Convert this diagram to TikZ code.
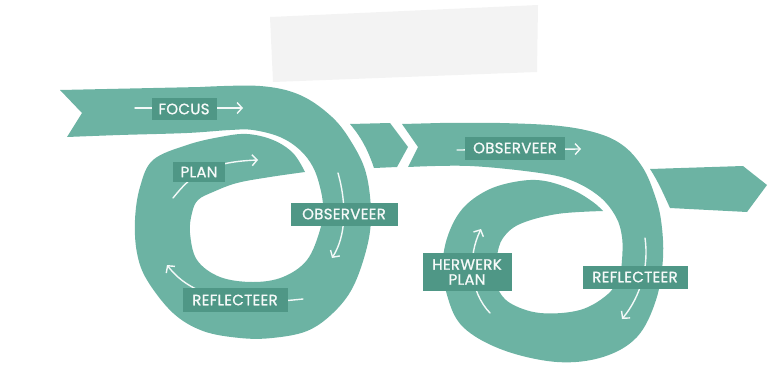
\documentclass[tikz,border=0pt]{standalone}
\usepackage{fontspec}
\setmainfont{Poppins}[FakeBold=1, LetterSpace=2]
\usetikzlibrary{arrows.meta}
\definecolor{band}{RGB}{108,179,163}
\definecolor{boxc}{RGB}{79,151,134}
\definecolor{tape}{RGB}{243,243,243}
\tikzset{
  bandfill/.style={fill=band},
  lbl/.style={fill=boxc, text=white!94!band, inner sep=0pt, font=\fontsize{15}{15}\selectfont, align=center},
  flow/.style={draw=white!92!band, line width=1.4pt, line cap=round},
  flowarr/.style={flow, -{Straight Barb[length=5pt,width=11pt,line width=1.4pt]}}
}
\begin{document}
\begin{tikzpicture}[x=1pt,y=-1pt]
\useasboundingbox (0,0) rectangle (784,367);
% tape
\fill[tape] (270,17) -- (538,5) -- (537,72) -- (273,82) -- cycle;
% first loop
\fill[bandfill] (60,90) -- (82,113) -- (67,137)
  -- plot[smooth, tension=0.6] coordinates {(67,137) (120,135) (187,133) (230,130) (253,130) (280,137) (300,150) (313,167) (320,187) (323,207) (320,230) (307,260) (283,277) (253,282) (220,277) (197,260) (190,233) (192,213) (198,200) (213,192) (237,183) (270,177) (305,172)}
  -- plot[smooth, tension=0.6] coordinates {(305,172) (293,153) (273,140) (247,134) (220,137) (187,145) (153,160) (140,187) (135,220) (137,253) (147,280) (173,313) (203,331) (240,338) (272,338) (307,331) (333,313) (353,287) (367,247) (371,213) (366,173) (352,143) (332,117) (300,95) (260,86) (200,87)}
  -- (60,90) -- cycle;
% chevron piece
\fill[bandfill] (350,124) -- (390,123) -- (408,147) -- (397,167) -- (374,168)
  .. controls (368,150) and (361,137) .. (350,124) -- cycle;
% second loop
\fill[bandfill] (402,124) -- (418,147) -- (408,167)
  -- plot[smooth, tension=0.6] coordinates {(408,167) (470,166) (540,173) (573,181) (600,197) (616,217) (622,237) (622,260) (619,276) (608,294) (580,310) (540,313) (510,303) (497,287) (495,270) (497,255) (503,238) (520,224) (557,214) (603,211)}
  -- plot[smooth, tension=0.6] coordinates {(603,211) (593,202) (573,190) (545,181) (520,181) (490,189) (465,206) (450,230) (443,260) (447,295) (463,327) (503,350) (557,362) (603,357) (637,337) (656,300) (663,258) (661,220) (654,193) (643,168) (625,147) (600,134) (560,126) (500,123) (440,123)}
  -- (402,124) -- cycle;
% tail
\fill[bandfill] (650,169) -- (743,166) -- (767,185) -- (747,212) -- (670,208)
  .. controls (664,195) and (658,181) .. (650,169) -- cycle;
% ---- first loop arrows and labels
\coordinate (fA) at (135,108); \coordinate (fB) at (243,108);
\draw[flowarr] (fA) -- (fB);
\node[lbl, minimum width=65pt, minimum height=22pt] (focus) at (184,109) {FOCUS};
\coordinate (pA) at (173,198); \coordinate (pB) at (258,160);
\draw[flowarr] (pA) .. controls (190,177) and (205,162) .. (pB);
\node[lbl, minimum width=52pt, minimum height=20pt] (plan) at (199,172) {PLAN};
\coordinate (oA) at (338,173); \coordinate (oB) at (332,258);
\draw[flowarr] (oA) .. controls (347,205) and (346,236) .. (oB);
\node[lbl, minimum width=107pt, minimum height=23pt] (obs1) at (344,214) {OBSERVEER};
\coordinate (rA) at (303,299); \coordinate (rB) at (167,265);
\draw[flowarr] (rA) .. controls (240,306) and (193,299) .. (rB);
\node[lbl, minimum width=105pt, minimum height=24pt] (refl1) at (235,300) {REFLECTEER};
% ---- second loop arrows and labels
\coordinate (sA) at (457,150); \coordinate (sB) at (581,149);
\draw[flowarr] (sA) -- (sB);
\node[lbl, minimum width=100pt, minimum height=23pt] (obs2) at (515,148) {OBSERVEER};
\coordinate (hA) at (490,313); \coordinate (hB) at (481,229);
\draw[flowarr] (hA) .. controls (470,292) and (467,258) .. (hB);
\node[lbl, minimum width=89pt, minimum height=38pt, font=\fontsize{15}{15}\selectfont] (herw) at (467,272) {HERWERK\\PLAN};
\coordinate (qA) at (645,238); \coordinate (qB) at (622,319);
\draw[flowarr] (qA) .. controls (649,266) and (641,296) .. (qB);
\node[lbl, minimum width=105pt, minimum height=23pt] (refl2) at (635,277) {REFLECTEER};
\end{tikzpicture}
\end{document}
